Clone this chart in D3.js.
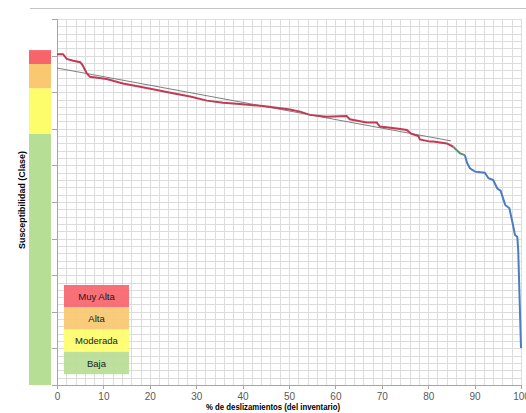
<!DOCTYPE html>
<html>
<head>
<meta charset="utf-8">
<script src="https://cdn.jsdelivr.net/npm/d3@7"></script>
<style>
  body { margin: 0; background: #fff; }
  svg { display: block; font-family: "Liberation Sans", Arial, sans-serif; }
  .grid line { stroke: #dcdcdc; stroke-width: 1; shape-rendering: crispEdges; }
  .axis path, .axis line { stroke: #a6a6a6; shape-rendering: crispEdges; }
  .axis text { fill: #595959; font-size: 10px; }
  .title { font-weight: bold; font-size: 9px; fill: #000; }
  .leg text { font-size: 9.5px; fill: #1a1a1a; }
</style>
</head>
<body>
<svg id="chart" width="526" height="413"></svg>
<script>
// susceptibility classes (bottom to top) and their limits on the y scale
const classNames = ["Baja", "Moderada", "Alta", "Muy Alta"];
const classColors = ["#b7de95", "#fdfd6b", "#f9c870", "#f7646c"];
const classBreaks = [0, 0.686, 0.811, 0.877, 0.915];

const xTicks = [0, 10, 20, 30, 40, 50, 60, 70, 80, 90, 100];

// cumulative curve: [% deslizamientos, susceptibilidad]
const redSeries = [
  [0, 0.904], [1.3, 0.904], [2.1, 0.891], [3.5, 0.886], [5.0, 0.882], [5.5, 0.874],
  [6.4, 0.852], [7.1, 0.842], [10.7, 0.836], [14.2, 0.824], [17.9, 0.815], [21.5, 0.806],
  [25.0, 0.797], [28.7, 0.788], [32.3, 0.777], [35.8, 0.771], [39.4, 0.768], [44.4, 0.762],
  [50.2, 0.753], [52.4, 0.747], [54.5, 0.738], [58.1, 0.733], [62.4, 0.735], [63.1, 0.726],
  [66.7, 0.717], [68.9, 0.717], [69.6, 0.706], [73.2, 0.701], [75.4, 0.697], [76.4, 0.686],
  [77.9, 0.680], [78.2, 0.671], [80.4, 0.665], [81.1, 0.665], [84.0, 0.660], [85.4, 0.651]
];
const greenSeries = [[85.4, 0.651], [86.1, 0.642], [86.9, 0.633], [87.9, 0.628]];
const blueSeries = [
  [87.9, 0.628], [88.4, 0.606], [89.0, 0.592], [90.1, 0.583], [92.2, 0.580], [93.0, 0.565],
  [94.0, 0.560], [94.9, 0.537], [95.6, 0.531], [96.6, 0.492], [97.5, 0.483], [98.2, 0.442],
  [98.7, 0.410], [99.2, 0.405], [99.4, 0.369], [100, 0.101]
];
const trendLine = [[0, 0.866], [84.9, 0.667]];

const margin = {top: 19, right: 5, bottom: 28, left: 57};
const width = 526 - margin.left - margin.right;
const height = 413 - margin.top - margin.bottom;

const svg = d3.select("#chart");

// thin border line at the top of the chart area
svg.append("line")
  .attr("x1", 30).attr("x2", 526).attr("y1", 8.5).attr("y2", 8.5)
  .attr("stroke", "#c4c4c4");

const g = svg.append("g").attr("transform", "translate(" + margin.left + "," + margin.top + ")");

const x = d3.scaleLinear().domain([0, 100]).range([0, width]);
const y = d3.scaleLinear().domain([0, 1]).range([height, 0]);

// grid
const grid = g.append("g").attr("class", "grid");
grid.selectAll("line.v").data(d3.range(0, 101, 2)).enter()
  .append("line").attr("class", "v")
    .attr("x1", d => Math.round(x(d)) + 0.5).attr("x2", d => Math.round(x(d)) + 0.5)
    .attr("y1", 0).attr("y2", height);
grid.selectAll("line.h").data(d3.range(0, 51).map(i => i / 50)).enter()
  .append("line").attr("class", "h")
    .attr("y1", d => Math.round(y(d)) + 0.5).attr("y2", d => Math.round(y(d)) + 0.5)
    .attr("x1", 0).attr("x2", width);

// class bands left of the axis
g.selectAll("rect.band").data(classNames).enter()
  .append("rect").attr("class", "band")
    .attr("x", -28).attr("width", 22)
    .attr("y", (d, i) => y(classBreaks[i + 1]))
    .attr("height", (d, i) => y(classBreaks[i]) - y(classBreaks[i + 1]))
    .attr("fill", (d, i) => classColors[i]);

// axes
g.append("g").attr("class", "x axis")
  .attr("transform", "translate(0," + height + ")")
  .call(d3.axisBottom(x).tickValues(xTicks).tickSize(4).tickPadding(4));
g.append("g").attr("class", "y axis")
  .call(d3.axisLeft(y).ticks(10).tickSize(5).tickFormat(""));

// lines
const line = d3.line().x(d => x(d[0])).y(d => y(d[1]));
g.append("path").datum(trendLine).attr("d", line)
  .attr("fill", "none").attr("stroke", "#7f7f7f").attr("stroke-width", 1);
g.append("path").datum(redSeries).attr("d", line)
  .attr("fill", "none").attr("stroke", "#c23a55").attr("stroke-width", 2);
g.append("path").datum(greenSeries).attr("d", line)
  .attr("fill", "none").attr("stroke", "#5e8f72").attr("stroke-width", 2);
g.append("path").datum(blueSeries).attr("d", line)
  .attr("fill", "none").attr("stroke", "#4a7ebf").attr("stroke-width", 2);

// legend (top row = Muy Alta)
const legX = 64 - margin.left, legY = 285 - margin.top, legW = 65, legH = 22.3;
const leg = g.append("g").attr("class", "leg");
const legOrder = classNames.slice().reverse();
const legColors = classColors.slice().reverse();
leg.selectAll("rect").data(legOrder).enter()
  .append("rect")
    .attr("x", legX).attr("y", (d, i) => legY + i * legH)
    .attr("width", legW).attr("height", legH)
    .attr("fill", (d, i) => legColors[i]).attr("opacity", 0.92);
leg.selectAll("text").data(legOrder).enter()
  .append("text")
    .attr("x", legX + legW / 2).attr("y", (d, i) => legY + i * legH + legH / 2 + 3.5)
    .attr("text-anchor", "middle")
    .text(d => d);

// titles
svg.append("text").attr("class", "title")
  .attr("x", 273).attr("y", 410).attr("text-anchor", "middle")
  .attr("textLength", 134).attr("lengthAdjust", "spacingAndGlyphs")
  .text("% de deslizamientos (del inventario)");
svg.append("text").attr("class", "title")
  .attr("transform", "translate(25,200) rotate(-90)").attr("text-anchor", "middle")
  .attr("textLength", 98).attr("lengthAdjust", "spacingAndGlyphs")
  .text("Susceptibilidad (Clase)");
</script>
</body>
</html>
